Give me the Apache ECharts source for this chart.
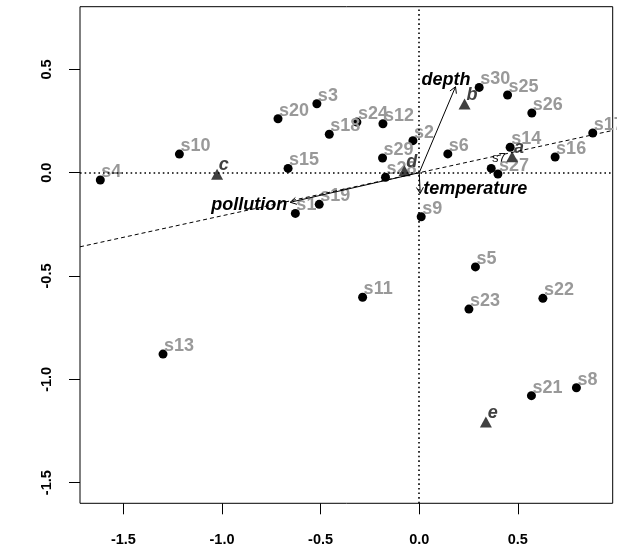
<!DOCTYPE html>
<html>
<head>
<meta charset="utf-8">
<script src="https://cdn.jsdelivr.net/npm/echarts@6/dist/echarts.min.js"></script>
<style>
  html, body { margin: 0; padding: 0; background: #fff; }
  #chart { width: 617px; height: 549px; }
</style>
</head>
<body>
<div id="chart"></div>
<script>
// Site scores (first two axes)
const siteNames = ['s1','s2','s3','s4','s5','s6','s7','s8','s9','s10',
                   's11','s12','s13','s14','s15','s16','s17','s18','s19','s20',
                   's21','s22','s23','s24','s25','s26','s27','s28','s29','s30'];
const siteX = [-0.628, -0.032, -0.519, -1.617, 0.285, 0.145, 0.365, 0.797, 0.010, -1.216,
               -0.287, -0.184, -1.299, 0.461, -0.665, 0.689, 0.880, -0.456, -0.507, -0.716,
                0.569, 0.627, 0.252, -0.316, 0.448, 0.571, 0.399, -0.171, -0.186, 0.304];
const siteY = [-0.197, 0.155, 0.334, -0.035, -0.456, 0.091, 0.021, -1.041, -0.213, 0.090,
               -0.603, 0.237, -0.878, 0.123, 0.021, 0.076, 0.192, 0.186, -0.153, 0.261,
               -1.079, -0.608, -0.660, 0.245, 0.376, 0.289, -0.006, -0.022, 0.071, 0.413];

// Species scores
const speciesNames = ['a', 'b', 'c', 'd', 'e'];
const speciesX = [0.471, 0.230, -1.025, -0.075, 0.338];
const speciesY = [0.077, 0.332, -0.007, 0.009, -1.207];

// Environmental variable vectors
const envNames = ['depth', 'temperature', 'pollution'];
const envX = [0.184, 0.005, -0.654];
const envY = [0.416, -0.100, -0.143];

// Slope of the dashed reference line through the origin
const fitSlope = [0.2085];

// Axis tick positions
const xTicks = [-1.5, -1.0, -0.5, 0.0, 0.5];
const yTicks = [-1.5, -1.0, -0.5, 0.0, 0.5];

const X_MIN = -1.72, X_MAX = 0.981;
const Y_MIN = -1.600, Y_MAX = 0.8035;

const FONT = "'Liberation Sans', Arial, Helvetica, sans-serif";

// Where each vector label sits relative to its arrow tip
const envLabelPlace = {
  depth:       { dx: -9.5, dy: -7, align: 'center' },
  temperature: { dx: 3,    dy: -4, align: 'left' },
  pollution:   { dx: -3,   dy: 3,  align: 'right' }
};

const siteData = siteNames.map((n, i) => {
  const d = { name: n, value: [siteX[i], siteY[i]] };
  if (n === 's7') {
    d.label = { color: '#111', fontSize: 13, fontWeight: 'normal', position: [5.2, -5.5] };
  }
  return d;
});
const speciesData = speciesNames.map((n, i) => ({ name: n, value: [speciesX[i], speciesY[i]] }));
const envData = envNames.map((n, i) => ({ name: n, value: [envX[i], envY[i]] }));

const slope = fitSlope[0];

const chart = echarts.init(document.getElementById('chart'), null, { renderer: 'canvas' });

const axisCommon = {
  axisLine: { show: false, onZero: false },
  splitLine: { show: false },
  axisTick: { show: true, inside: false, length: 11, lineStyle: { color: '#000', width: 1 } },
  axisLabel: {
    color: '#000', fontFamily: FONT, fontSize: 14.5, fontWeight: 'bold',
    formatter: v => v.toFixed(1)
  }
};

chart.setOption({
  animation: false,
  backgroundColor: '#fff',
  grid: {
    left: 80, right: 4.3, top: 6.7, bottom: 45.7,
    show: true, borderColor: '#000', borderWidth: 1, backgroundColor: 'transparent'
  },
  xAxis: Object.assign({}, axisCommon, {
    type: 'value', min: X_MIN, max: X_MAX, position: 'bottom',
    axisTick: Object.assign({}, axisCommon.axisTick, { customValues: xTicks }),
    axisLabel: Object.assign({}, axisCommon.axisLabel, { customValues: xTicks, margin: 29 })
  }),
  yAxis: Object.assign({}, axisCommon, {
    type: 'value', min: Y_MIN, max: Y_MAX, position: 'left',
    axisTick: Object.assign({}, axisCommon.axisTick, { customValues: yTicks }),
    axisLabel: Object.assign({}, axisCommon.axisLabel, { customValues: yTicks, rotate: 90, margin: 26 })
  }),
  series: [
    {
      // reference lines: axes through origin and dashed fitted direction
      type: 'scatter',
      data: [],
      silent: true,
      markLine: {
        silent: true,
        symbol: 'none',
        label: { show: false },
        animation: false,
        data: [
          { xAxis: 0, lineStyle: { color: '#000', width: 1.6, type: [1.6, 3], opacity: 1 } },
          { yAxis: 0, lineStyle: { color: '#000', width: 1.6, type: [1.6, 3], opacity: 1 } },
          [
            { coord: [X_MIN, slope * X_MIN], lineStyle: { color: '#000', width: 1, type: [4, 3], opacity: 1 } },
            { coord: [X_MAX, slope * X_MAX] }
          ]
        ]
      }
    },
    {
      name: 'sites',
      type: 'scatter',
      data: siteData,
      symbol: 'circle',
      symbolSize: 9,
      itemStyle: { color: '#000', opacity: 1 },
      z: 3,
      label: {
        show: true,
        formatter: '{b}',
        position: [5.5, -3.6],
        align: 'left',
        verticalAlign: 'middle',
        color: '#999999',
        fontFamily: FONT,
        fontSize: 18,
        fontWeight: 'bold'
      },
      emphasis: { disabled: true }
    },
    {
      name: 'species',
      type: 'scatter',
      data: speciesData,
      symbol: 'triangle',
      symbolSize: [12, 11],
      itemStyle: { color: '#404040', opacity: 1 },
      z: 4,
      label: {
        show: true,
        formatter: '{b}',
        position: [7.8, -3.3],
        align: 'left',
        verticalAlign: 'middle',
        color: '#404040',
        fontFamily: FONT,
        fontSize: 18,
        fontWeight: 'bold',
        fontStyle: 'italic'
      },
      emphasis: { disabled: true }
    },
    {
      name: 'environment',
      type: 'custom',
      data: envData,
      z: 5,
      silent: true,
      renderItem: function (params, api) {
        const o = api.coord([0, 0]);
        const t = api.coord([api.value(0), api.value(1)]);
        const ang = Math.atan2(t[1] - o[1], t[0] - o[0]);
        const L = 7, A = Math.PI / 6;
        const p1 = [t[0] - L * Math.cos(ang - A), t[1] - L * Math.sin(ang - A)];
        const p2 = [t[0] - L * Math.cos(ang + A), t[1] - L * Math.sin(ang + A)];
        const name = envNames[params.dataIndex];
        const place = envLabelPlace[name];
        return {
          type: 'group',
          children: [
            { type: 'line', shape: { x1: o[0], y1: o[1], x2: t[0], y2: t[1] },
              style: { stroke: '#000', lineWidth: 1 } },
            { type: 'polyline', shape: { points: [p1, t, p2] },
              style: { stroke: '#000', fill: null, lineWidth: 1 } },
            { type: 'text', x: t[0] + place.dx, y: t[1] + place.dy,
              style: { text: name, fill: '#000', align: place.align, verticalAlign: 'middle',
                       font: 'italic bold 18px ' + FONT } }
          ]
        };
      }
    }
  ]
});
</script>
</body>
</html>
